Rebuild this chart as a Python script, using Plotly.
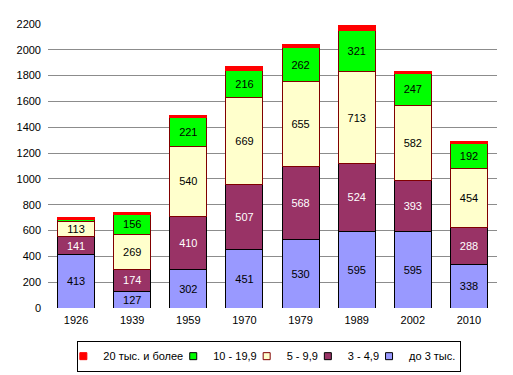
import plotly.graph_objects as go

years = ["1926", "1939", "1959", "1970", "1979", "1989", "2002", "2010"]
s_under3 = [413, 127, 302, 451, 530, 595, 595, 338]
s_3_49 = [141, 174, 410, 507, 568, 524, 393, 288]
s_5_99 = [113, 269, 540, 669, 655, 713, 582, 454]
s_10_199 = [20, 156, 221, 216, 262, 321, 247, 192]
s_20plus = [12, 16, 22, 26, 28, 38, 18, 20]
y_ticks = list(range(0, 2201, 200))

names = ["до 3 тыс.", "3 - 4,9", "5 - 9,9", "10 - 19,9", "20 тыс. и более"]
series = [s_under3, s_3_49, s_5_99, s_10_199, s_20plus]
fills = ["#9999FF", "#993366", "#FFFFCC", "#00FF00", "#FF0000"]
borders = ["#000000", "#000000", "#800000", "#800000", "#FF0000"]
txtcol = ["#000000", "#FFFFFF", "#000000", "#000000", "#000000"]
show_text = [True, True, True, True, False]

FONT = "Liberation Sans, Arial, sans-serif"
fig = go.Figure()
for name, vals, fc, bc, tc, st in zip(names, series, fills, borders, txtcol, show_text):
    labels = [str(v) if (st and v >= 50) else "" for v in vals]
    fig.add_trace(go.Bar(
        x=years, y=vals, name=name, showlegend=False,
        marker=dict(color=fc, line=dict(color=bc, width=1)),
        text=labels, texttemplate="%{text}",
        textposition="inside", insidetextanchor="middle", textangle=0,
        textfont=dict(color=tc, size=11, family=FONT),
        hoverinfo="skip",
    ))

# legend entries with small square markers
leg_borders = ["#000000", "#000000", "#800000", "#000000", "#FF0000"]
for name, fc, bc in zip(names, fills, leg_borders):
    fig.add_trace(go.Scatter(
        x=[None], y=[None], mode="markers", name=name,
        marker=dict(symbol="square", size=7, color=fc, line=dict(color=bc, width=1)),
        hoverinfo="skip",
    ))

fig.update_layout(
    barmode="stack", bargap=0.34,
    width=513, height=375,
    margin=dict(l=40, r=24, t=16, b=75, autoexpand=False),
    paper_bgcolor="white", plot_bgcolor="white",
    font=dict(family=FONT, size=11, color="#000000"),
    uniformtext=dict(minsize=11, mode="show"),
    legend=dict(
        orientation="h", traceorder="reversed",
        x=0.493, xanchor="center", y=-0.115, yanchor="top",
        bordercolor="#000000", borderwidth=1,
        font=dict(size=11, family=FONT),
        itemwidth=30, tracegroupgap=0, indentation=-15,
    ),
    showlegend=True,
)
fig.update_yaxes(
    range=[0, 2200], tickvals=y_ticks, ticktext=[str(v) for v in y_ticks],
    showgrid=True, gridcolor="#8C8C8C", gridwidth=1,
    zeroline=False, showline=False, ticks="", ticklabelstandoff=6,
    tickfont=dict(size=11, family=FONT),
)
fig.update_xaxes(
    showline=False, ticks="", tickfont=dict(size=11, family=FONT),
    ticklabelstandoff=4,
)
fig.write_html("out.html")
